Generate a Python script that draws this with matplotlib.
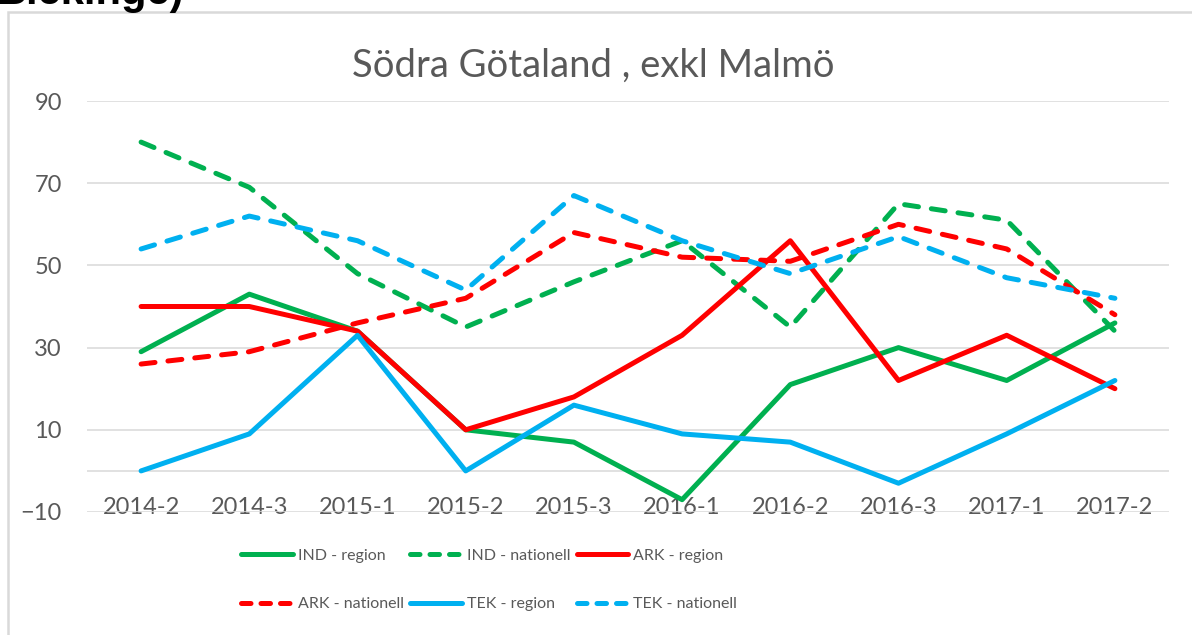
import matplotlib
matplotlib.use('Agg')
import matplotlib.pyplot as plt
from matplotlib.lines import Line2D
from matplotlib.patches import Rectangle

plt.rcParams['font.family'] = ['Lato', 'DejaVu Sans']

quarters = ['2014-2', '2014-3', '2015-1', '2015-2', '2015-3',
            '2016-1', '2016-2', '2016-3', '2017-1', '2017-2']
ind_region = [29, 43, 34, 10, 7, -7, 21, 30, 22, 36]
ind_nat = [80, 69, 48, 35, 46, 56, 35, 65, 61, 34]
ark_region = [40, 40, 34, 10, 18, 33, 56, 22, 33, 20]
ark_nat = [26, 29, 36, 42, 58, 52, 51, 60, 54, 38]
tek_region = [0, 9, 33, 0, 16, 9, 7, -3, 9, 22]
tek_nat = [54, 62, 56, 44, 67, 56, 48, 57, 47, 42]
y_ticks = [-10, 10, 30, 50, 70, 90]

GREEN = '#00b050'
RED = '#ff0000'
BLUE = '#00b0f0'
GRID = '#d9d9d9'
TEXT = '#595959'
DASH = (0, (2.8, 2.6))
LEG_DASH = (0, (1.9, 2.0))

fig = plt.figure(figsize=(11.92, 6.35), dpi=100)
ax = fig.add_axes([87 / 1192, 1 - 512 / 635, (1169 - 87) / 1192, 411 / 635])

x = range(len(quarters))
series = [
    (ind_region, GREEN, '-', 'IND - region'),
    (ind_nat, GREEN, DASH, 'IND - nationell'),
    (ark_region, RED, '-', 'ARK - region'),
    (ark_nat, RED, DASH, 'ARK - nationell'),
    (tek_region, BLUE, '-', 'TEK - region'),
    (tek_nat, BLUE, DASH, 'TEK - nationell'),
]
handles = []
for vals, col, ls, lab in series:
    ax.plot(x, vals, color=col, linestyle=ls, lw=3.6, label=lab,
            solid_capstyle='round', dash_capstyle='round', zorder=3)
    # shorter dashes in the legend, like Excel does
    handles.append(Line2D([], [], color=col, lw=3.6,
                          linestyle=LEG_DASH if ls != '-' else '-',
                          solid_capstyle='round', dash_capstyle='round'))

ax.set_xlim(-0.5, len(quarters) - 0.5)
ax.set_ylim(-10, 90)
ax.set_yticks(y_ticks)
ax.grid(axis='y', color=GRID, lw=1.1, zorder=0)
ax.axhline(0, color=GRID, lw=1.1, zorder=1)
for s in ax.spines.values():
    s.set_visible(False)

ax.set_xticks(list(x), quarters)
ax.tick_params(axis='x', length=0, pad=-10.8, labelsize=17, labelcolor=TEXT)
ax.tick_params(axis='y', length=0, pad=18, labelsize=17, labelcolor=TEXT)

fig.text(0.498, 1 - 77 / 635, 'Södra Götaland , exkl Malmö', ha='center',
         va='baseline', fontsize=27.5, color=TEXT)

# row-major order for a 3-column legend
order = [0, 3, 1, 4, 2, 5]
fig.legend([handles[i] for i in order], [series[i][3] for i in order],
           ncol=3, loc='center', bbox_to_anchor=(489 / 1192, 1 - 580 / 635),
           frameon=False, labelcolor=TEXT, fontsize=11.5, handlelength=3.25,
           handletextpad=0.3, columnspacing=0.4, labelspacing=2.15)

# chart frame and cut-off heading above it
fig.patches.append(Rectangle((8 / 1192, -0.1), 1.2, 1.1 - 12 / 635,
                             transform=fig.transFigure, fill=False,
                             edgecolor=GRID, lw=1.8))
fig.text(-4 / 1192, 1 - 4 / 635, 'Blekinge)', ha='left', va='baseline',
         fontsize=30, fontweight='bold', color='black',
         family=['Liberation Sans', 'DejaVu Sans'])

fig.savefig('out.png', dpi=100)
